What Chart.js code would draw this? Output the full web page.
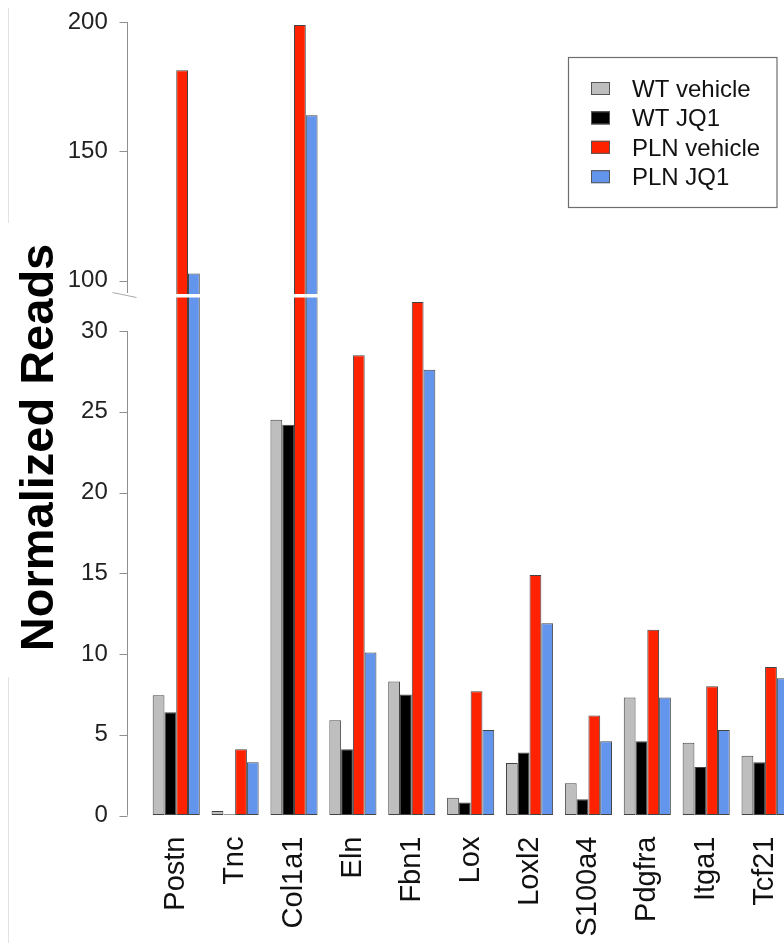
<!DOCTYPE html>
<html>
<head>
<meta charset="utf-8">
<title>Normalized Reads</title>
<script src="https://cdn.jsdelivr.net/npm/chart.js@4/dist/chart.umd.min.js"></script>
<style>
  html, body { margin: 0; padding: 0; background: #fff; overflow: hidden; }
  canvas { display: block; }
</style>
</head>
<body>
<canvas id="readsChart" width="800" height="943"></canvas>
<script>
// genes on the x axis
const genes = ['Postn', 'Tnc', 'Col1a1', 'Eln', 'Fbn1', 'Lox', 'Loxl2', 'S100a4', 'Pdgfra', 'Itga1', 'Tcf21'];

// normalized reads per group
const wtVehicle  = [7.45, 0.28, 24.5, 5.9, 8.3, 1.1, 3.25, 2.0, 7.3, 4.5, 3.7];
const wtJQ1      = [6.4, 0.08, 24.2, 4.1, 7.5, 0.8, 3.9, 1.0, 4.6, 3.0, 3.3];
const plnVehicle = [181.4, 4.1, 198.8, 28.5, 31.8, 7.7, 14.9, 6.2, 11.5, 8.0, 9.2];
const plnJQ1     = [102.8, 3.3, 164, 10.1, 27.6, 5.3, 11.9, 4.6, 7.3, 5.3, 8.5];

const seriesNames = ['WT vehicle', 'WT JQ1', 'PLN vehicle', 'PLN JQ1'];
const seriesColors = ['#bebebe', '#000000', '#ff2200', '#6495ed'];

// the y axis is broken in two parts
const lowTicks = [0, 5, 10, 15, 20, 25, 30];
const highTicks = [100, 150, 200];
const lowMax = 32.2;
const highMin = 94.3;

const FONT = "'Liberation Sans', Arial, Helvetica, sans-serif";
Chart.defaults.font.family = FONT;

const series = [wtVehicle, wtJQ1, plnVehicle, plnJQ1];
const datasets = [];
['yLow', 'yHigh'].forEach(axis => {
  series.forEach((values, i) => {
    datasets.push({
      label: seriesNames[i],
      data: axis === 'yHigh' ? values.map(v => (v > lowMax ? v : null)) : values,
      yAxisID: axis,
      stack: 'g' + i,
      backgroundColor: seriesColors[i],
      borderColor: '#444',
      borderWidth: 1,
      borderSkipped: false,
      clip: 0,
      categoryPercentage: 0.8,
      barPercentage: 1
    });
  });
});

// invisible tick marks, only used to push the labels away from the chart area
const hiddenTicks = len => ({
  display: true,
  color: 'rgba(0,0,0,0)',
  drawOnChartArea: false,
  drawTicks: true,
  tickLength: len
});

const breakAxis = {
  id: 'breakAxis',
  afterDraw(chart) {
    const { ctx, chartArea, scales } = chart;
    const lo = scales.yLow, hi = scales.yHigh;
    const ax = Math.floor(chartArea.left - 19) + 0.5;
    const cut = hi.bottom;
    ctx.save();

    // white gap through the tall bars
    ctx.fillStyle = '#fff';
    ctx.fillRect(chartArea.left, cut - 1.5, chartArea.right - chartArea.left, 3.5);

    // R style axis lines and ticks
    ctx.strokeStyle = '#8f8f8f';
    ctx.lineWidth = 1;
    ctx.beginPath();
    ctx.moveTo(ax, hi.getPixelForValue(highTicks[highTicks.length - 1]));
    ctx.lineTo(ax, cut - 2.5);
    ctx.moveTo(ax, lo.getPixelForValue(lowTicks[lowTicks.length - 1]));
    ctx.lineTo(ax, lo.getPixelForValue(lowTicks[0]));
    highTicks.forEach(v => {
      const y = Math.round(hi.getPixelForValue(v)) + 0.5;
      ctx.moveTo(ax - 8, y); ctx.lineTo(ax, y);
    });
    lowTicks.forEach(v => {
      const y = Math.round(lo.getPixelForValue(v)) + 0.5;
      ctx.moveTo(ax - 8, y); ctx.lineTo(ax, y);
    });
    ctx.stroke();

    // break mark
    ctx.strokeStyle = '#a8a8a8';
    ctx.beginPath();
    ctx.moveTo(ax - 15, cut - 3);
    ctx.lineTo(ax + 9, cut + 2);
    ctx.stroke();

    // faint panel edge
    ctx.strokeStyle = '#e2e2e2';
    ctx.beginPath();
    ctx.moveTo(8.5, 8); ctx.lineTo(8.5, 223);
    ctx.moveTo(8.5, 677); ctx.lineTo(8.5, 943);
    ctx.stroke();

    // y title
    ctx.save();
    ctx.translate(53, 447.5);
    ctx.rotate(-Math.PI / 2);
    ctx.fillStyle = '#000';
    ctx.font = 'bold 47px ' + FONT;
    ctx.textAlign = 'center';
    ctx.textBaseline = 'alphabetic';
    ctx.fillText('Normalized Reads', 0, 0);
    ctx.restore();

    // legend box
    ctx.strokeStyle = '#6e6e6e';
    ctx.lineWidth = 1.2;
    ctx.strokeRect(568.5, 57.5, 208.5, 150);
    ctx.font = '24px ' + FONT;
    ctx.textAlign = 'left';
    ctx.textBaseline = 'alphabetic';
    seriesNames.forEach((name, i) => {
      const rowY = 88.5 + i * 29.4;
      ctx.fillStyle = seriesColors[i];
      ctx.fillRect(591, rowY - 6.5, 19, 13);
      ctx.strokeStyle = '#555';
      ctx.lineWidth = 1;
      ctx.strokeRect(591.5, rowY - 6, 18, 12);
      ctx.fillStyle = '#111';
      ctx.fillText(name, 632, rowY + 8.5);
    });

    ctx.restore();
  }
};

new Chart(document.getElementById('readsChart').getContext('2d'), {
  type: 'bar',
  data: { labels: genes, datasets: datasets },
  options: {
    responsive: false,
    animation: false,
    layout: { padding: { top: 22, right: 2.6, bottom: 0, left: 0 } },
    plugins: {
      legend: { display: false },
      tooltip: { enabled: false }
    },
    scales: {
      x: {
        offset: true,
        grid: hiddenTicks(21),
        border: { display: false },
        ticks: {
          color: '#111',
          font: { size: 29 },
          minRotation: 90,
          maxRotation: 90,
          autoSkip: false,
          padding: 0
        },
        afterFit: s => { s.height = 127.5; }
      },
      yLow: {
        position: 'left',
        stack: 'reads',
        stackWeight: 520,
        min: 0,
        max: lowMax,
        grid: hiddenTicks(39),
        border: { display: false },
        ticks: { color: '#222', font: { size: 24 }, padding: 0 },
        afterBuildTicks: s => { s.ticks = lowTicks.map(v => ({ value: v })); },
        afterFit: s => { s.width = 146.8; }
      },
      yHigh: {
        position: 'left',
        stack: 'reads',
        stackWeight: 273.5,
        min: highMin,
        max: 200,
        grid: hiddenTicks(39),
        border: { display: false },
        ticks: { color: '#222', font: { size: 24 }, padding: 0 },
        afterBuildTicks: s => { s.ticks = highTicks.map(v => ({ value: v })); },
        afterFit: s => { s.width = 146.8; }
      }
    }
  },
  plugins: [breakAxis]
});
</script>
</body>
</html>
